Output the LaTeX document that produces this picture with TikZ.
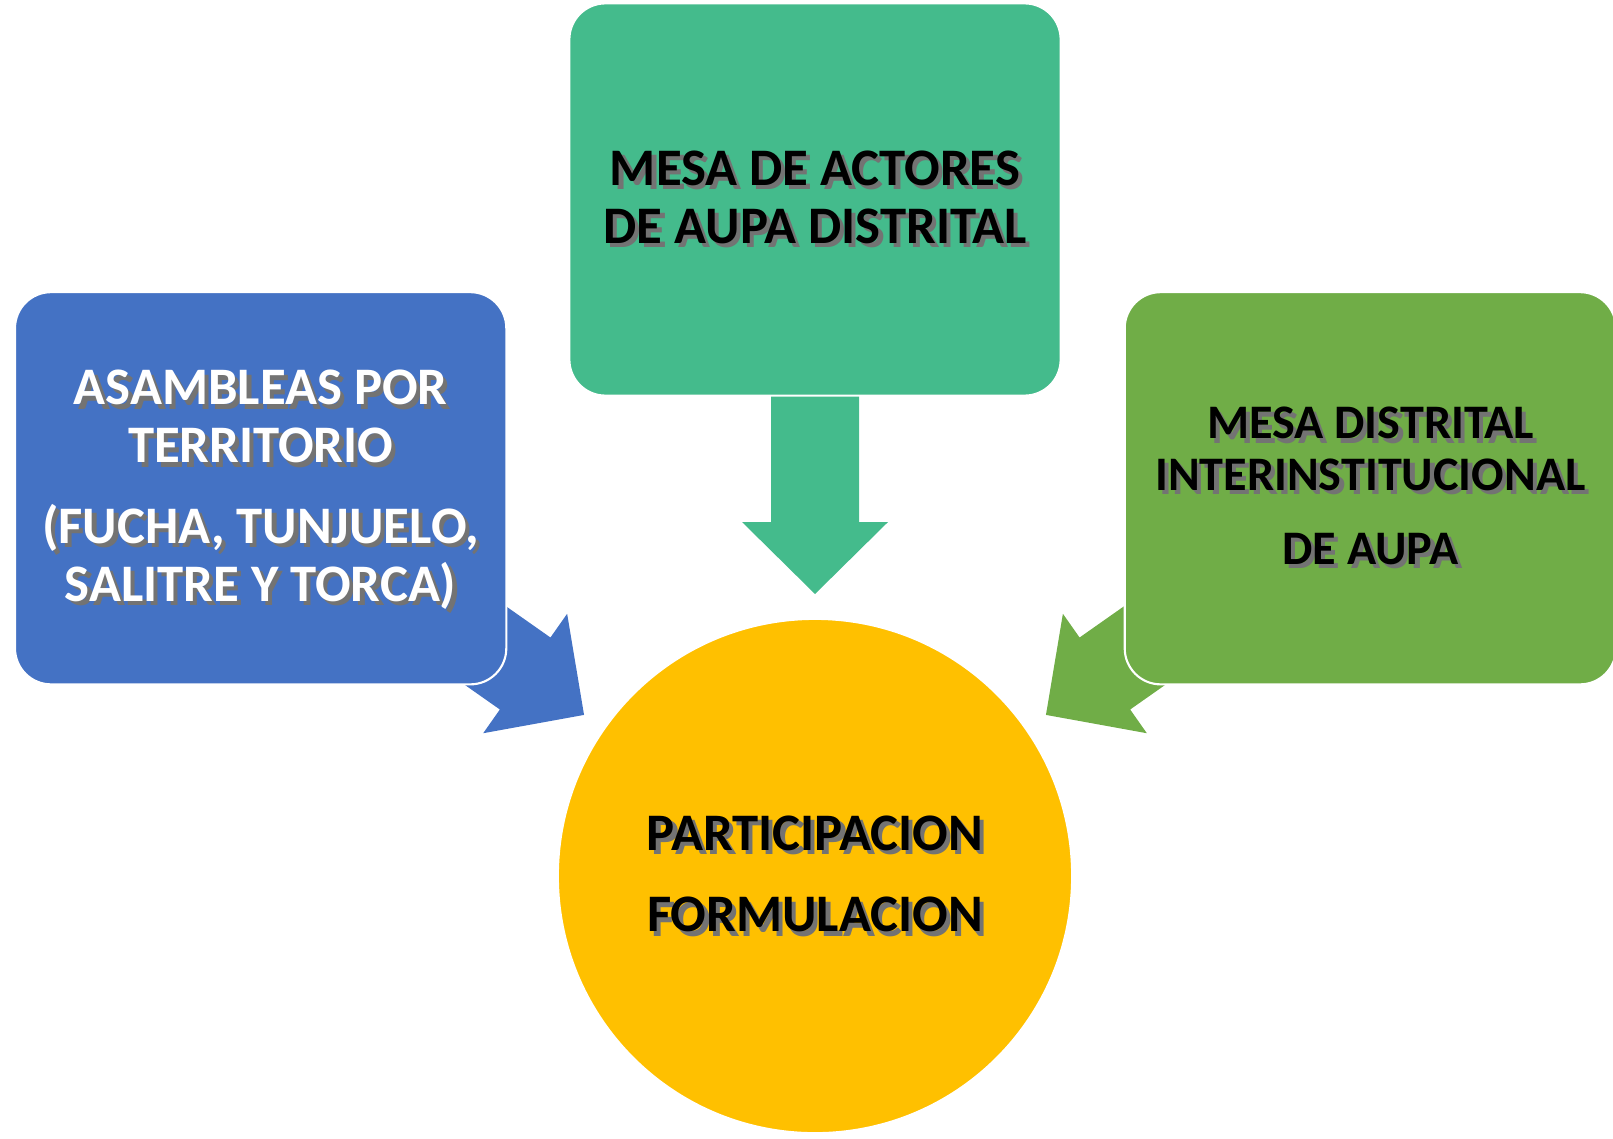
\documentclass[tikz,border=0pt]{standalone}
\usepackage{fontspec}
\setmainfont{Carlito}
\usepackage{xcolor}
\usepackage{tikz}
\usetikzlibrary{positioning,calc}

\definecolor{asamblue}{HTML}{4472C4}
\definecolor{mesateal}{HTML}{44BB8C}
\definecolor{interverde}{HTML}{70AD47}
\definecolor{partgold}{HTML}{FFC000}
\colorlet{textshade}{black!55}
\newcommand{\shd}[1]{\leavevmode\rlap{\hspace{1.2pt}\raisebox{-1.2pt}{\textcolor{textshade}{#1}}}#1}

\begin{document}
\begin{tikzpicture}[
        x=0.01cm, y=0.01cm,
        every node/.style={align=center, inner sep=0pt, font=\bfseries\fontsize{15}{16.5}\selectfont},
        box/.style={rectangle, rounded corners=0.36cm, draw=white, line width=0.6pt, minimum width=4.91cm, minimum height=3.92cm},
        blockarrow/.pic={\fill[pic actions] (-199,44) -- (-72,44) -- (-72,73) -- (0,0) -- (-72,-73) -- (-72,-44) -- (-199,-44) -- cycle;}
    ]
        \useasboundingbox (0,0) rectangle (1613,1138);

        \node[circle, fill=partgold, draw=white, line width=0.6pt, minimum size=5.14cm] (part) at (815,262)
            {\shd{PARTICIPACION}\\[6.8pt] \shd{FORMULACION}};

        % flechas hacia el circulo
        \pic[fill=mesateal, rotate=-90] at ($(part.center)+(90:282)$) {blockarrow};
        \pic[fill=asamblue, rotate=-35.1] at ($(part.center)+(145.1:281.6)$) {blockarrow};
        \pic[fill=interverde, rotate=215.1] at ($(part.center)+(34.9:281.6)$) {blockarrow};

        \node[box, fill=mesateal, above=2.21cm of part] (mesa)
            {\shd{MESA DE ACTORES}\\ \shd{DE AUPA DISTRITAL}};
        \node[box, fill=asamblue, text=white, above left=0.08cm and 1.25cm of part] (asam)
            {\shd{ASAMBLEAS POR}\\ \shd{TERRITORIO}\\[6.5pt] \shd{(FUCHA, TUNJUELO,}\\ \shd{SALITRE Y TORCA\smash{)}}};
        \node[box, fill=interverde, above right=0.08cm and 1.26cm of part,
              font=\bfseries\fontsize{13.7}{14.6}\selectfont] (inter)
            {\shd{MESA DISTRITAL}\\ \shd{INTERINSTITUCIONAL}\\[6.5pt] \shd{DE AUPA}};
    \end{tikzpicture}
\end{document}
